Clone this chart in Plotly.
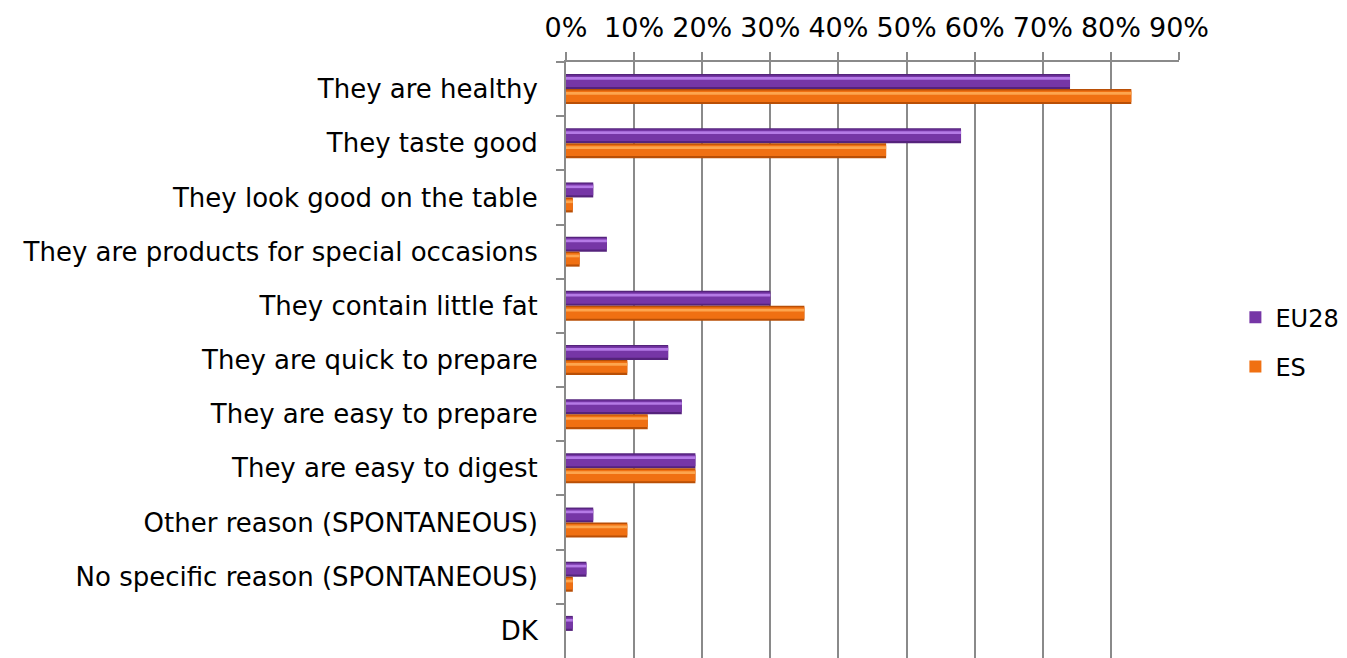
import plotly.graph_objects as go

categories = [
    "They are healthy",
    "They taste good",
    "They look good on the table",
    "They are products for special occasions",
    "They contain little fat",
    "They are quick to prepare",
    "They are easy to prepare",
    "They are easy to digest",
    "Other reason (SPONTANEOUS)",
    "No specific reason (SPONTANEOUS)",
    "DK",
]
eu28 = [74, 58, 4, 6, 30, 15, 17, 19, 4, 3, 1]
es = [83, 47, 1, 2, 35, 9, 12, 19, 9, 1, 0]
tick_vals = [0, 10, 20, 30, 40, 50, 60, 70, 80, 90]
tick_text = [f"{v}%" for v in tick_vals]

FONT = "DejaVu Sans"
W = 0.277  # bar thickness in category units

series = [
    # name, values, offset, dark, face, light, group
    ("EU28", eu28, -W, "#55237c", "#7636a6", "#b57ae6", "a"),
    ("ES", es, 0.0, "#b94f06", "#f07012", "#fda54e", "b"),
]

fig = go.Figure()
for name, vals, off, dark, face, light, grp in series:
    fig.add_trace(go.Bar(
        y=categories, x=vals, orientation="h", name=name,
        offset=off, width=W, marker=dict(color=dark, line=dict(width=0)),
        showlegend=False, legendgroup=grp, hoverinfo="skip",
    ))
    fig.add_trace(go.Bar(
        y=categories, x=vals, orientation="h", name=name,
        offset=off + 0.025, width=W - 0.065, marker=dict(color=face, line=dict(width=0)),
        showlegend=True, legendgroup=grp,
    ))
    fig.add_trace(go.Bar(
        y=categories, x=vals, orientation="h", name=name,
        offset=off + 0.055, width=0.05, marker=dict(color=light, line=dict(width=0)),
        showlegend=False, legendgroup=grp, hoverinfo="skip",
    ))

fig.update_layout(
    width=1347, height=658,
    margin=dict(l=566, r=168, t=62, b=0),
    paper_bgcolor="white", plot_bgcolor="white",
    font=dict(family=FONT, size=26, color="black"),
    barmode="overlay",
    showlegend=True,
    legend=dict(x=1.092, xanchor="left", y=0.53, yanchor="middle",
                traceorder="grouped", tracegroupgap=15,
                font=dict(family=FONT, size=24), itemwidth=30),
    xaxis=dict(side="top", range=[0, 90], tickvals=tick_vals, ticktext=tick_text,
               tickfont=dict(size=27),
               showgrid=True, gridcolor="#8a8a8a", gridwidth=2,
               showline=True, linecolor="#8a8a8a", linewidth=2,
               ticks="outside", ticklen=8, tickcolor="#8a8a8a", tickwidth=2,
               zeroline=False, fixedrange=True, ticklabelstandoff=4),
    yaxis=dict(autorange="reversed", type="category",
               showline=True, linecolor="#8a8a8a", linewidth=2,
               ticks="outside", ticklen=8, tickcolor="#8a8a8a", tickwidth=2,
               tickson="boundaries", showgrid=False, ticklabelstandoff=21),
)
fig.write_html("out.html")
